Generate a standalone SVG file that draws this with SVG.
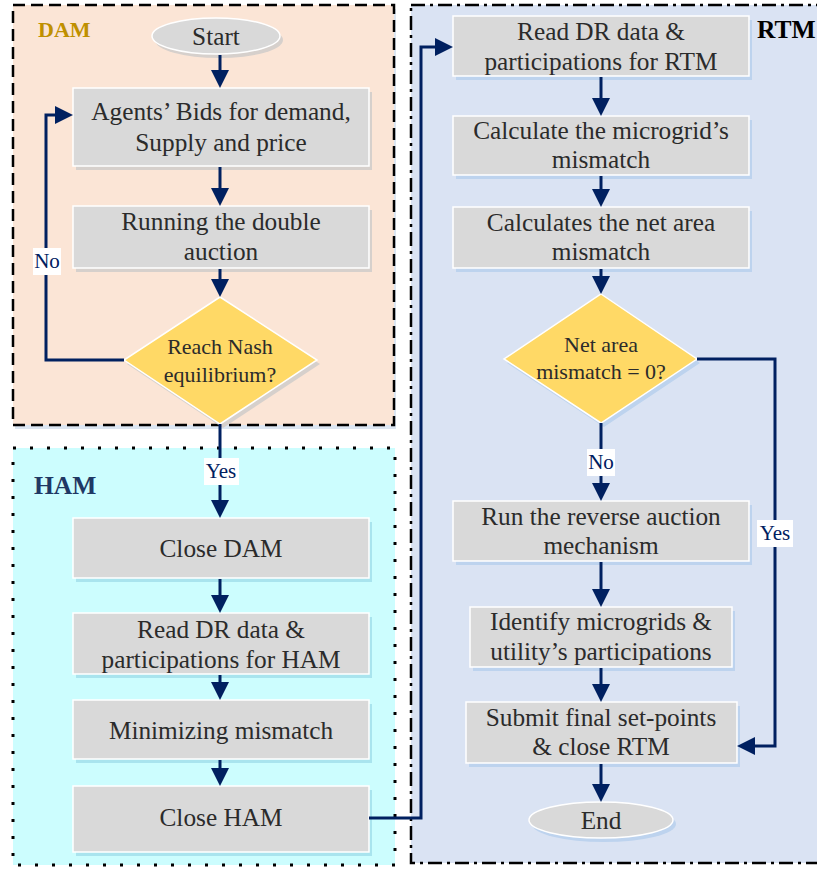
<svg xmlns="http://www.w3.org/2000/svg" width="817" height="869" viewBox="0 0 817 869">
<defs>
<marker id="ah" viewBox="0 0 18 18" refX="12" refY="9" markerWidth="18" markerHeight="18" markerUnits="userSpaceOnUse" orient="auto">
<path d="M0,0 L18,9 L0,18 z" fill="#002060"/>
</marker>
</defs>
<style>
.box{fill:#D9D9D9;stroke:#FFFFFF;stroke-width:1.5}
.dia{fill:#FFD966;stroke:#FFFFFF;stroke-width:1.5}
.shD{fill:#D6D0CC}
.shH{fill:#A9E4EE}
.shR{fill:#BDD3EE}
.t{font-family:"Liberation Serif","Times New Roman",serif;font-size:25.3px;fill:#2B2B2B;text-anchor:middle}
.td{font-family:"Liberation Serif","Times New Roman",serif;font-size:22px;fill:#2B2B2B;text-anchor:middle}
.lbl{font-family:"Liberation Serif","Times New Roman",serif;font-size:21px;fill:#002060;text-anchor:middle}
.lblbg{fill:#FFFFFF}
.c{fill:none;stroke:#002060;stroke-width:3}
.ca{fill:none;stroke:#002060;stroke-width:3;marker-end:url(#ah)}
.title{font-family:"Liberation Serif","Times New Roman",serif;font-weight:bold}
</style>

<g id="regions">
<rect x="15" y="9" width="381" height="420" fill="#DCE6F2"/>
<rect x="13" y="5" width="381" height="420" fill="#FBE5D6" stroke="#000000" stroke-width="2.5" stroke-dasharray="12 6"/>
<rect x="13" y="448" width="382" height="417" fill="#CCFDFE" stroke="#000000" stroke-width="3" stroke-dasharray="3 14"/>
<rect x="411" y="5" width="410" height="858" fill="#DAE3F3" stroke="#000000" stroke-width="2.5" stroke-dasharray="14 5 3 5"/>
<text class="title" x="38" y="37" font-size="22" fill="#BF9000">DAM</text>
<text class="title" x="34" y="494" font-size="25.5" fill="#1F3864">HAM</text>
<text class="title" x="757" y="38" font-size="25.5" fill="#000000">RTM</text>
</g>

<g id="start">
<ellipse cx="219" cy="40" rx="64" ry="18" class="shD"/>
<ellipse cx="216" cy="36" rx="64" ry="18" class="box"/>
<text class="t" x="216" y="45">Start</text>
</g>
<g id="agents">
<rect x="76" y="92" width="296" height="78" class="shD"/>
<rect x="73" y="88" width="296" height="78" class="box"/>
<text class="t" x="221" y="120">Agents’ Bids for demand,</text>
<text class="t" x="221" y="151">Supply and price</text>
</g>
<g id="running">
<rect x="76" y="210" width="296" height="62" class="shD"/>
<rect x="73" y="206" width="296" height="62" class="box"/>
<text class="t" x="221" y="230">Running the double</text>
<text class="t" x="221" y="260">auction</text>
</g>
<g id="nash">
<polygon points="223,301 320,364 223,428 127,364" class="shD"/>
<polygon points="220,297 317,360 220,424 124,360" class="dia"/>
<text class="td" x="220" y="354">Reach Nash</text>
<text class="td" x="220" y="382">equilibrium?</text>
</g>

<g id="closedam">
<rect x="76" y="522" width="296" height="60" class="shH"/>
<rect x="73" y="518" width="296" height="60" class="box"/>
<text class="t" x="221" y="557">Close DAM</text>
</g>
<g id="readham">
<rect x="76" y="617" width="296" height="61" class="shH"/>
<rect x="73" y="613" width="296" height="61" class="box"/>
<text class="t" x="221" y="638">Read DR data &amp;</text>
<text class="t" x="221" y="668">participations for HAM</text>
</g>
<g id="minimizing">
<rect x="76" y="704" width="296" height="59" class="shH"/>
<rect x="73" y="700" width="296" height="59" class="box"/>
<text class="t" x="221" y="739">Minimizing mismatch</text>
</g>
<g id="closeham">
<rect x="76" y="790" width="296" height="66" class="shH"/>
<rect x="73" y="786" width="296" height="66" class="box"/>
<text class="t" x="221" y="826">Close HAM</text>
</g>

<g id="readrtm">
<rect x="456" y="20" width="296" height="60" class="shR"/>
<rect x="453" y="16" width="296" height="60" class="box"/>
<text class="t" x="601" y="40">Read DR data &amp;</text>
<text class="t" x="601" y="70">participations for RTM</text>
</g>
<g id="calcmg">
<rect x="456" y="120" width="296" height="59" class="shR"/>
<rect x="453" y="116" width="296" height="59" class="box"/>
<text class="t" x="601" y="139">Calculate the microgrid’s</text>
<text class="t" x="601" y="168">mismatch</text>
</g>
<g id="calcnet">
<rect x="456" y="211" width="296" height="61" class="shR"/>
<rect x="453" y="207" width="296" height="61" class="box"/>
<text class="t" x="601" y="231">Calculates the net area</text>
<text class="t" x="601" y="260">mismatch</text>
</g>
<g id="netzero">
<polygon points="604,298 700,363 604,427 507,363" class="shR"/>
<polygon points="601,294 697,359 601,423 504,359" class="dia"/>
<text class="td" x="601" y="352">Net area</text>
<text class="td" x="601" y="379">mismatch = 0?</text>
</g>
<g id="reverse">
<rect x="456" y="505" width="296" height="60" class="shR"/>
<rect x="453" y="501" width="296" height="60" class="box"/>
<text class="t" x="601" y="525">Run the reverse auction</text>
<text class="t" x="601" y="554">mechanism</text>
</g>
<g id="identify">
<rect x="473" y="611" width="262" height="60" class="shR"/>
<rect x="470" y="607" width="262" height="60" class="box"/>
<text class="t" x="601" y="630">Identify microgrids &amp;</text>
<text class="t" x="601" y="660">utility’s participations</text>
</g>
<g id="submit">
<rect x="469" y="706" width="271" height="61" class="shR"/>
<rect x="466" y="702" width="271" height="61" class="box"/>
<text class="t" x="601" y="726">Submit final set-points</text>
<text class="t" x="601" y="755">&amp; close RTM</text>
</g>
<g id="end">
<ellipse cx="604" cy="824" rx="72" ry="18" class="shR"/>
<ellipse cx="601" cy="820" rx="72" ry="18" class="box"/>
<text class="t" x="601" y="829">End</text>
</g>

<g id="connectors">
<path class="ca" d="M220,55 V82"/>
<path class="ca" d="M220,167 V200"/>
<path class="ca" d="M220,269 V291"/>
<path class="ca" d="M124,360 H46 V115 H67"/>
<path class="ca" d="M220,424 V512"/>
<path class="ca" d="M220,579 V607"/>
<path class="ca" d="M220,675 V694"/>
<path class="ca" d="M220,760 V780"/>
<path class="ca" d="M369,818 H421 V47 H447"/>
<path class="ca" d="M601,77 V110"/>
<path class="ca" d="M601,176 V201"/>
<path class="ca" d="M601,269 V288"/>
<path class="ca" d="M601,423 V495"/>
<path class="ca" d="M601,562 V601"/>
<path class="ca" d="M601,668 V696"/>
<path class="ca" d="M601,764 V796"/>
<path class="ca" d="M697,359 H775 V746 H743"/>
<rect class="lblbg" x="33" y="248" width="28" height="27"/>
<text class="lbl" x="47" y="268">No</text>
<rect class="lblbg" x="204" y="458" width="35" height="27"/>
<text class="lbl" x="221" y="478">Yes</text>
<rect class="lblbg" x="587" y="449" width="28" height="27"/>
<text class="lbl" x="601" y="469">No</text>
<rect class="lblbg" x="757" y="520" width="36" height="27"/>
<text class="lbl" x="775" y="540">Yes</text>
</g>
</svg>
